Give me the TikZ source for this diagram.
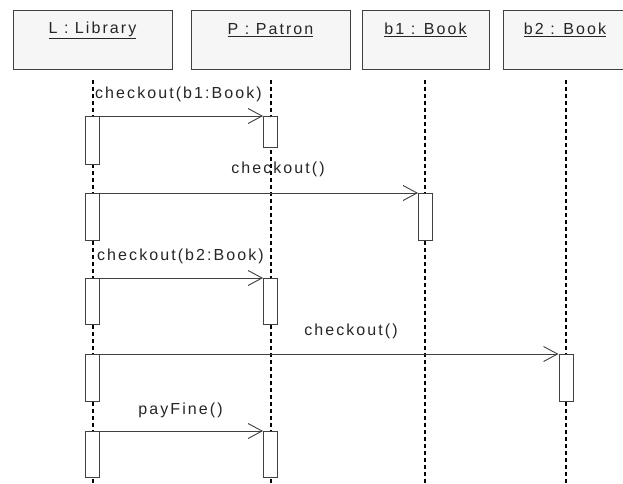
\documentclass[tikz,border=0pt]{standalone}
\usepackage{fontspec}
\setmainfont{Liberation Sans}[LetterSpace=13]
\usetikzlibrary{arrows.meta}
\definecolor{ink}{HTML}{404040}
\definecolor{boxfill}{HTML}{F6F6F6}
\tikzset{
  obj/.style={draw=ink, fill=boxfill, line width=1pt, inner sep=0pt, minimum height=59pt},
  objtext/.style={font=\fontsize{16pt}{18pt}\selectfont, inner sep=0pt, text=black!85},
  life/.style={draw=black, line width=1.6pt, dash pattern=on 4pt off 3pt},
  act/.style={draw=ink, fill=white, line width=1pt, minimum width=14pt, inner sep=0pt},
  msg/.style={draw=ink, line width=1pt, -{Straight Barb[length=14pt,width=15pt,line width=0.9pt]}},
  msgtext/.style={font=\fontsize{16pt}{18pt}\selectfont, inner sep=0pt, text=black!85},
}
\begin{document}
\begin{tikzpicture}[x=1pt,y=-1pt]
\useasboundingbox (0,0) rectangle (623,483);
\clip (0,0) rectangle (623,483);
\fill[white] (0,0) rectangle (623,483);
% object boxes
\node[obj, minimum width=159pt] (L) at (92.5,39.5) {};
\node[obj, minimum width=159pt] (P) at (270.5,39.5) {};
\node[obj, minimum width=127pt] (B1) at (425.5,39.5) {};
\node[obj, minimum width=127pt] (B2) at (566.5,39.5) {};
\node[objtext] (Lt) at (92.5,30) {\underline{L : Library}};
\node[objtext] (Pt) at (270.5,30) {\underline{P : Patron}};
\node[objtext] (B1t) at (425.5,30) {\underline{b1 : Book}};
\node[objtext] (B2t) at (565,30) {\underline{b2 : Book}};
% lifelines
\coordinate (Ls) at (93,80); \coordinate (Le) at (93,483);
\coordinate (Ps) at (271,80); \coordinate (Pe) at (271,483);
\coordinate (B1s) at (425,80); \coordinate (B1e) at (425,483);
\coordinate (B2s) at (566,80); \coordinate (B2e) at (566,483);
\draw[life] (Ls) -- (Le);
\draw[life] (Ps) -- (Pe);
\draw[life] (B1s) -- (B1e);
\draw[life] (B2s) -- (B2e);
% activations
\node[act, minimum height=48pt, anchor=north] (aL1) at (92.5,116) {};
\node[act, minimum height=31pt, anchor=north] (aP1) at (270.5,116) {};
\node[act, minimum height=47pt, anchor=north] (aL2) at (92.5,193) {};
\node[act, minimum height=47pt, anchor=north] (aB1) at (425.5,193) {};
\node[act, minimum height=46pt, anchor=north] (aL3) at (92.5,278) {};
\node[act, minimum height=46pt, anchor=north] (aP3) at (270.5,278) {};
\node[act, minimum height=47pt, anchor=north] (aL4) at (92.5,354) {};
\node[act, minimum height=47pt, anchor=north] (aB2) at (566,354) {};
\node[act, minimum height=46pt, anchor=north] (aL5) at (92.5,431) {};
\node[act, minimum height=46pt, anchor=north] (aP5) at (270.5,431) {};
% messages
\draw[msg] (aL1.north east) -- (aP1.north west);
\draw[msg] (aL2.north east) -- (aB1.north west);
\draw[msg] (aL3.north east) -- (aP3.north west);
\draw[msg] (aL4.north east) -- (aB2.north west);
\draw[msg] (aL5.north east) -- (aP5.north west);
% labels
\node[msgtext] (m1) at (178.5,94) {checkout(b1:Book)};
\node[msgtext] (m2) at (278,169) {checkout()};
\node[msgtext] (m3) at (180.5,256) {checkout(b2:Book)};
\node[msgtext] (m4) at (351,331) {checkout()};
\node[msgtext] (m5) at (180.5,410) {payFine()};
\end{tikzpicture}
\end{document}
